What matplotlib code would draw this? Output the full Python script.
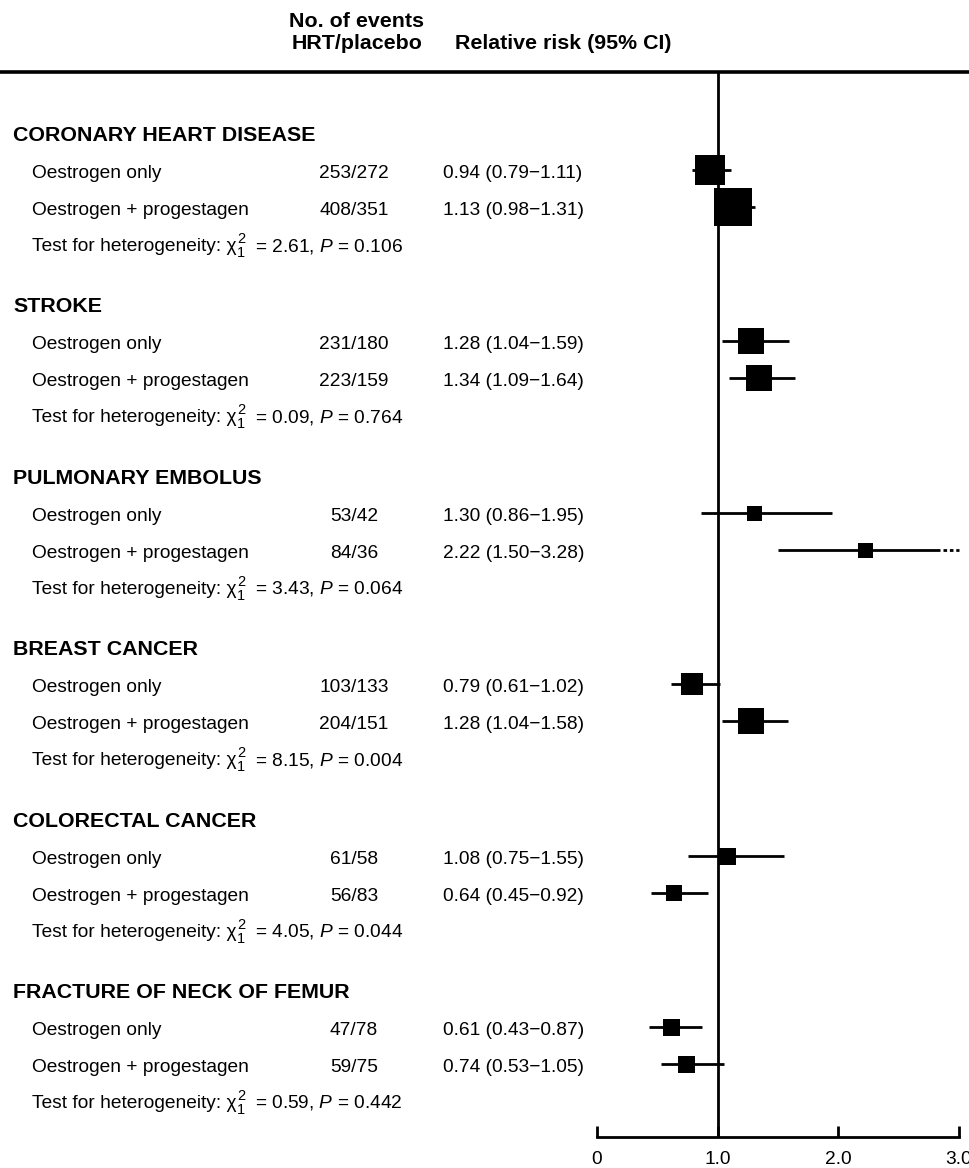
import matplotlib
matplotlib.use("Agg")
import matplotlib.pyplot as plt

plt.rcParams['font.family'] = ['Liberation Sans', 'DejaVu Sans']
plt.rcParams['mathtext.fontset'] = 'custom'
plt.rcParams['mathtext.rm'] = 'Liberation Sans'
plt.rcParams['mathtext.it'] = 'Liberation Sans:italic'
plt.rcParams['mathtext.bf'] = 'Liberation Sans:bold'

# ---------------- data ----------------
outcomes = ["CORONARY HEART DISEASE", "STROKE", "PULMONARY EMBOLUS",
            "BREAST CANCER", "COLORECTAL CANCER", "FRACTURE OF NECK OF FEMUR"]
regimens = ["Oestrogen only", "Oestrogen + progestagen"]

events_e = ["253/272", "231/180", "53/42", "103/133", "61/58", "47/78"]
events_ep = ["408/351", "223/159", "84/36", "204/151", "56/83", "59/75"]

rr_e = [0.94, 1.28, 1.30, 0.79, 1.08, 0.61]
lo_e = [0.79, 1.04, 0.86, 0.61, 0.75, 0.43]
hi_e = [1.11, 1.59, 1.95, 1.02, 1.55, 0.87]

rr_ep = [1.13, 1.34, 2.22, 1.28, 0.64, 0.74]
lo_ep = [0.98, 1.09, 1.50, 1.04, 0.45, 0.53]
hi_ep = [1.31, 1.64, 3.28, 1.58, 0.92, 1.05]

chi2 = [2.61, 0.09, 3.43, 8.15, 4.05, 0.59]
pvals = ["0.106", "0.764", "0.064", "0.004", "0.044", "0.442"]

# relative box weights (box side, px)
box_e = [30, 26, 15, 22, 17, 17]
box_ep = [38, 27, 15, 26, 16, 17]

xticks = [0, 1, 2, 3]
xticklabels = ["0", "1.0", "2.0", "3.0"]

# ---------------- layout ----------------
W, H = 970, 1168
fig = plt.figure(figsize=(W / 100, H / 100), dpi=100)
ax0 = fig.add_axes([0, 0, 1, 1])
ax0.set_xlim(0, W)
ax0.set_ylim(H, 0)
ax0.axis('off')

x0_px, x3_px = 597, 959
ax = fig.add_axes([x0_px / W, 0, (x3_px - x0_px) / W, 1])
ax.set_xlim(0, 3)
ax.set_ylim(H, 0)
ax.patch.set_alpha(0)

FS = 13.8
FSB = 15.4
FSS = 10.5
LW = 2.0
XMAX = 3.0

# header
ax0.text(357, 27, "No. of events", fontsize=FSB, fontweight='bold', ha='center', va='baseline')
ax0.text(357, 49, "HRT/placebo", fontsize=FSB, fontweight='bold', ha='center', va='baseline')
ax0.text(563, 49, "Relative risk (95% CI)", fontsize=FSB, fontweight='bold', ha='center', va='baseline')
ax0.axhline(72, color='black', lw=2.6)

# reference line at 1.0
ax.vlines(1.0, 72, 1137, color='black', lw=LW, clip_on=False)

row1_start = 170
group_step = 171.4
row_gap = 37

for i, name in enumerate(outcomes):
    r1 = row1_start + group_step * i
    r2 = r1 + row_gap
    ax0.text(13, r1 - 29, name, fontsize=FSB, fontweight='bold', ha='left', va='baseline')
    rows = [
        (r1, regimens[0], events_e[i], rr_e[i], lo_e[i], hi_e[i], box_e[i]),
        (r2, regimens[1], events_ep[i], rr_ep[i], lo_ep[i], hi_ep[i], box_ep[i]),
    ]
    for (y, lab, ev, rr, lo, hi, bs) in rows:
        ax0.text(32, y + 8, lab, fontsize=FS, ha='left', va='baseline')
        ax0.text(354, y + 8, ev, fontsize=FS, ha='center', va='baseline')
        ax0.text(443, y + 8, f"{rr:.2f} ({lo:.2f}\u2212{hi:.2f})", fontsize=FS,
                 ha='left', va='baseline')
        if hi > XMAX:
            ax.plot([lo, 2.84], [y, y], color='black', lw=LW, solid_capstyle='butt', clip_on=False)
            ax.plot([2.87, XMAX], [y, y], color='black', lw=LW, linestyle=(0, (1.3, 1.0)),
                    dash_capstyle='butt', clip_on=False)
        else:
            ax.plot([lo, hi], [y, y], color='black', lw=LW, solid_capstyle='butt', clip_on=False)
        ax.scatter([rr], [y], marker='s', s=(bs * 0.72) ** 2, color='black',
                   linewidths=0, zorder=3, clip_on=False)
    # heterogeneity test line with stacked super/subscript
    yb = r1 + 81
    t1 = ax0.text(32, yb, "Test for heterogeneity: \u03c7", fontsize=FS, ha='left', va='baseline')
    t2 = ax0.annotate("2", xy=(1, yb - 8), xycoords=(t1, 'data'), xytext=(0.5, 0),
                      textcoords='offset points', fontsize=FSS, ha='left', va='baseline')
    ax0.annotate("1", xy=(1, yb + 6), xycoords=(t1, 'data'), xytext=(0.5, 0),
                 textcoords='offset points', fontsize=FSS, ha='left', va='baseline')
    ax0.annotate(f"= {chi2[i]:.2f}, " + r"$P$" + f" = {pvals[i]}", xy=(1, yb),
                 xycoords=(t2, 'data'), xytext=(7, 0), textcoords='offset points',
                 fontsize=FS, ha='left', va='baseline')

# x axis at the bottom
for s in ['top', 'left', 'right']:
    ax.spines[s].set_visible(False)
ax.spines['bottom'].set_position(('data', 1137))
ax.spines['bottom'].set_linewidth(LW)
ax.yaxis.set_visible(False)
ax.set_xticks(xticks)
ax.set_xticklabels(xticklabels)
ax.tick_params(axis='x', direction='in', length=11 * 0.72, width=LW, labelsize=FS, pad=10)

fig.savefig("out.png", dpi=100)
